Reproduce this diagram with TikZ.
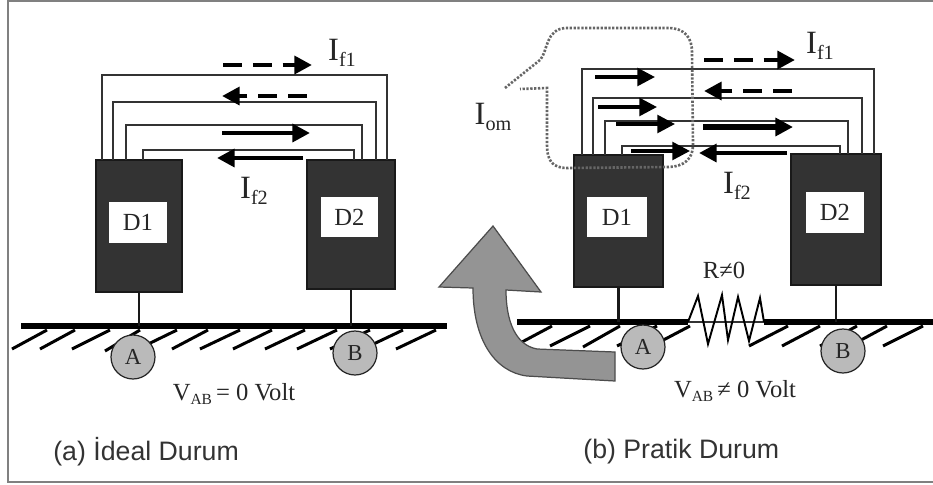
\documentclass[tikz,border=0pt]{standalone}
\usepackage{fontspec}
\setmainfont{Liberation Serif}
\setsansfont{Liberation Sans}
\usetikzlibrary{arrows.meta}
\newcommand{\curlab}[2]{{\fontsize{18.5}{18}\selectfont #1\raisebox{-0.45ex}{\fontsize{11.5}{11}\selectfont #2}}}
\newcommand{\vlab}[1]{{\fontsize{14}{14}\selectfont V\raisebox{-0.4ex}{\fontsize{8.8}{9}\selectfont AB}\,#1 0 Volt}}
\begin{document}
\begin{tikzpicture}[x=0.02cm,y=-0.02cm]
    \tikzset{device/.style = {shape=rectangle,draw=black!90,fill=black!80,line width=0.6pt,minimum size=0pt,inner sep=0pt}}
    \tikzset{tag/.style = {shape=rectangle,fill=white,text=black!85,inner sep=0pt,minimum width=1.16cm,minimum height=0.81cm,font=\fontsize{14}{14}\selectfont}}
    \tikzset{post/.style = {shape=circle,draw=black!85,fill=black!27,line width=0.7pt,minimum size=0.88cm,inner sep=0pt,text=black!85,font=\fontsize{13}{13}\selectfont}}
    \tikzset{wire/.style = {draw=black!80,line width=0.7pt}}
    \tikzset{stem/.style = {draw=black!90,line width=1.6pt}}
    \tikzset{ground/.style = {draw=black,line width=3.7pt}}
    \tikzset{hatch/.style = {draw=black,line width=1.7pt}}
    \tikzset{flow/.style = {draw=black,line width=2.6pt,-{Triangle[length=10pt,width=10pt]}}}
    \tikzset{thinflow/.style = {draw=black,line width=2pt,-{Triangle[length=10pt,width=10pt]}}}
    \tikzset{dashflow/.style = {flow,dash pattern=on 11pt off 6pt}}
    \tikzset{lab/.style = {anchor=base,inner sep=0pt,text=black!85}}
    \tikzset{caption/.style = {anchor=base west,inner sep=0pt,text=black!80,font=\sffamily\fontsize{15.2}{16}\selectfont}}
    \useasboundingbox (0,0) rectangle (933,484);
    % frame
    \draw[draw=black!50,line width=0.9pt] (933,1) -- (8,1) -- (8,482) -- (933,482);
    % left side: ground
    \coordinate (gla) at (21,326);
    \coordinate (glb) at (447,326);
    \draw[hatch] (12,349) -- (47,330) (40,349) -- (75,330) (72,349) -- (110,330) (105,351) -- (140,330)
        (138,349) -- (177,330) (172,349) -- (208,330) (200,349) -- (240,330) (233,349) -- (272,330)
        (265,349) -- (305,330) (297,349) -- (337,330) (330,349) -- (370,330) (363,349) -- (403,330)
        (396,349) -- (436,330);
    \draw[ground] (gla) -- (glb);
    % left side: devices
    \node[device,minimum width=1.72cm,minimum height=2.64cm] (d1a) at (139,226) {};
    \node[device,minimum width=1.76cm,minimum height=2.58cm] (d2a) at (351,224.5) {};
    \node[tag] (t1a) at (138,222.5) {D1};
    \node[tag] (t2a) at (349.5,217) {D2};
    \draw[stem] (d1a.south) -- (d1a.south |- gla);
    \draw[stem] (d2a.south) -- (d2a.south |- gla);
    \node[post] (pa) at (133,357) {A};
    \node[post] (pb) at (355,353) {B};
    % left side: wires
    \coordinate (w1l) at (102,160); \coordinate (w1t) at (245,75); \coordinate (w1r) at (387,160);
    \coordinate (w2l) at (113,160); \coordinate (w2t) at (245,102); \coordinate (w2r) at (376,160);
    \coordinate (w3l) at (126,160); \coordinate (w3t) at (245,125); \coordinate (w3r) at (362,160);
    \coordinate (w4l) at (143,160); \coordinate (w4t) at (245,150); \coordinate (w4r) at (354,160);
    \draw[wire] (w1l) |- (w1t) -| (w1r);
    \draw[wire] (w2l) |- (w2t) -| (w2r);
    \draw[wire] (w3l) |- (w3t) -| (w3r);
    \draw[wire] (w4l) |- (w4t) -| (w4r);
    % left side: currents
    \coordinate (f1a) at (223,65); \coordinate (f1b) at (312,65);
    \coordinate (f2a) at (307,96); \coordinate (f2b) at (222,96);
    \coordinate (f3a) at (222,133); \coordinate (f3b) at (310,133);
    \coordinate (f4a) at (303,158); \coordinate (f4b) at (217,158);
    \draw[dashflow] (f1a) -- (f1b);
    \draw[dashflow] (f2a) -- (f2b);
    \draw[flow] (f3a) -- (f3b);
    \draw[flow] (f4a) -- (f4b);
    \node[lab] (if1a) at (342,60) {\curlab{I}{f1}};
    \node[lab] (if2a) at (254,198) {\curlab{I}{f2}};
    \node[lab] (vab) at (234,400) {\vlab{=}};
    \node[caption] (capa) at (53,460) {(a) İdeal Durum};
    % right side: ground
    \coordinate (gra) at (517,322);
    \coordinate (grb) at (688,322);
    \coordinate (grc) at (764,322);
    \coordinate (grd) at (933,322);
    \draw[hatch] (522,342) -- (552,326) (550,346) -- (590,326) (583,347) -- (620,326) (617,346) -- (657,326)
        (652,346) -- (690,326) (749,346) -- (788,326) (782,346) -- (820,326) (820,346) -- (857,326)
        (850,346) -- (887,326) (883,346) -- (923,326);
    \draw[ground] (gra) -- (grb);
    \draw[ground] (grc) -- (grd);
    % right side: resistor
    \draw[wire] (grb) -- (grc);
    \draw[draw=black,line width=1.1pt,line join=miter] (grb) -- (698,296) -- (708,344) -- (722,295) -- (728,340)
        -- (738,297) -- (749,341) -- (760,298) -- (grc);
    \node[lab] (rne) at (724,278) {\fontsize{14}{14}\selectfont R≠0};
    % right side: devices
    \node[device,minimum width=1.78cm,minimum height=2.64cm] (d1b) at (618.5,221) {};
    \node[device,minimum width=1.80cm,minimum height=2.62cm] (d2b) at (836,219.5) {};
    \node[tag,minimum width=1.2cm] (t1b) at (617,217) {D1};
    \node[tag] (t2b) at (835,212.5) {D2};
    \draw[stem] (d1b.south) -- (d1b.south |- gra);
    \draw[stem] (d2b.south) -- (d2b.south |- gra);
    % right side: wires
    \coordinate (w5l) at (582,155); \coordinate (w5t) at (728,69); \coordinate (w5r) at (874,154);
    \coordinate (w6l) at (593,155); \coordinate (w6t) at (728,98); \coordinate (w6r) at (862,154);
    \coordinate (w7l) at (605,155); \coordinate (w7t) at (728,121); \coordinate (w7r) at (848,154);
    \coordinate (w8l) at (622,155); \coordinate (w8t) at (728,146); \coordinate (w8r) at (840,154);
    \draw[wire] (w5l) |- (w5t) -| (w5r);
    \draw[wire] (w6l) |- (w6t) -| (w6r);
    \draw[wire] (w7l) |- (w7t) -| (w7r);
    \draw[wire] (w8l) |- (w8t) -| (w8r);
    % right side: currents
    \coordinate (f5a) at (704,60); \coordinate (f5b) at (795,60);
    \coordinate (f6a) at (792,91); \coordinate (f6b) at (704,91);
    \coordinate (f7a) at (703,127); \coordinate (f7b) at (793,127);
    \coordinate (f8a) at (787,153); \coordinate (f8b) at (699,153);
    \draw[dashflow] (f5a) -- (f5b);
    \draw[dashflow] (f6a) -- (f6b);
    \draw[flow,line width=3.2pt] (f7a) -- (f7b);
    \draw[flow] (f8a) -- (f8b);
    \coordinate (o1a) at (595,77); \coordinate (o1b) at (655,77);
    \coordinate (o2a) at (598,107); \coordinate (o2b) at (657,107);
    \coordinate (o3a) at (616,124); \coordinate (o3b) at (675,124);
    \coordinate (o4a) at (631,151); \coordinate (o4b) at (690,151);
    \draw[thinflow] (o1a) -- (o1b);
    \draw[thinflow] (o2a) -- (o2b);
    \draw[thinflow] (o3a) -- (o3b);
    \draw[thinflow] (o4a) -- (o4b);
    % right side: dotted loop
    \draw[draw=black!60,line width=1.5pt,dash pattern=on 1.3pt off 0.9pt] (505,88) -- (540,60) .. controls (548,52) and (545,28) .. (567,28)
        -- (668,28) .. controls (685,28) and (692,38) .. (692,52) -- (693,145)
        .. controls (693,158) and (685,167) .. (667,167) -- (567,168)
        .. controls (552,168) and (547,160) .. (547,145) -- (547,88) -- (520,89);
    \node[lab] (iom) at (493,124) {\curlab{I}{om}};
    \node[lab] (if1b) at (820,53) {\curlab{I}{f1}};
    \node[lab] (if2b) at (737,193) {\curlab{I}{f2}};
    % big gray arrow
    \draw[draw=black!70,fill=black!42,line width=0.7pt] (493,226) -- (541,292) -- (506,290)
        .. controls (506,320) and (515,345) .. (537,349) -- (615,352) -- (615,381) -- (527,376)
        .. controls (495,372) and (473,340) .. (473,288) -- (439,287) -- cycle;
    \node[post] (pc) at (643,347) {A};
    \node[post] (pd) at (843,351) {B};
    \node[lab] (vabb) at (735,397) {\vlab{≠}};
    \node[caption] (capb) at (583,458) {(b) Pratik Durum};
\end{tikzpicture}
\end{document}
